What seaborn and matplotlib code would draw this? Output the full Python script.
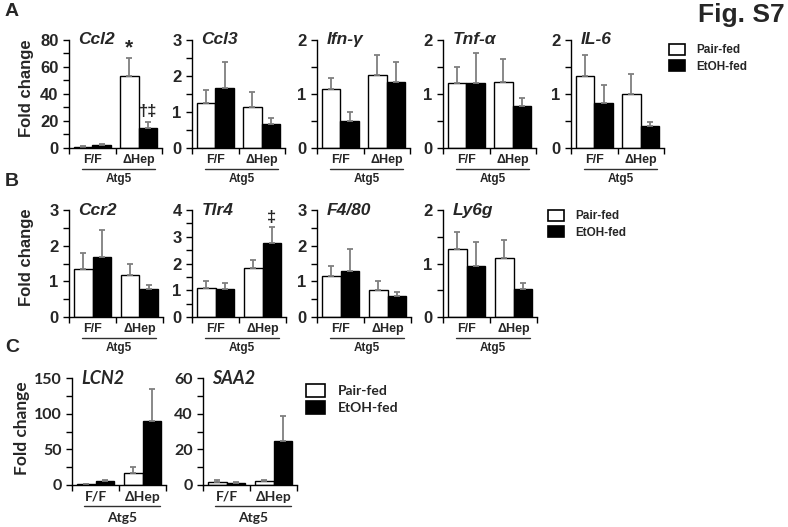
#!/usr/bin/env python3
"""
Fig. S7 - fold change bar charts, Atg5 F/F vs deltaHep, pair-fed vs EtOH-fed
"""

import pandas as pd
import matplotlib.pyplot as plt
import seaborn as sns
from matplotlib.lines import Line2D
from matplotlib.patches import Patch
from matplotlib.ticker import MultipleLocator

# groups and diets
groups = ['F/F', '\u0394Hep']
diets = ['Pair-fed', 'EtOH-fed']

# panel A
genes_a = ['Ccl2', 'Ccl3', 'Ifn-\u03b3', 'Tnf-\u03b1', 'IL-6']
pair_a = [[1.0, 53.0], [1.25, 1.13], [1.1, 1.35], [1.2, 1.23], [1.33, 1.0]]
pair_err_a = [[0.3, 14.0], [0.37, 0.42], [0.2, 0.37], [0.3, 0.42], [0.39, 0.37]]
etoh_a = [[2.5, 15.0], [1.68, 0.68], [0.5, 1.22], [1.2, 0.77], [0.83, 0.4]]
etoh_err_a = [[0.6, 4.0], [0.72, 0.15], [0.16, 0.38], [0.55, 0.15], [0.34, 0.08]]
ymax_a = [80, 3, 2, 2, 2]
ystep_a = [20, 1, 1, 1, 1]

# panel B
genes_b = ['Ccr2', 'Tlr4', 'F4/80', 'Ly6g']
pair_b = [[1.35, 1.17], [1.1, 1.85], [1.15, 0.75], [1.27, 1.1]]
pair_err_b = [[0.45, 0.33], [0.23, 0.28], [0.27, 0.27], [0.32, 0.33]]
etoh_b = [[1.67, 0.78], [1.03, 2.75], [1.28, 0.58], [0.95, 0.53]]
etoh_err_b = [[0.77, 0.12], [0.24, 0.6], [0.62, 0.12], [0.45, 0.1]]
ymax_b = [3, 4, 3, 2]
ystep_b = [1, 1, 1, 1]

# panel C
genes_c = ['LCN2', 'SAA2']
pair_c = [[0.8, 17.0], [1.8, 2.3]]
pair_err_c = [[0.3, 8.0], [0.8, 0.7]]
etoh_c = [[5.5, 90.0], [1.2, 24.5]]
etoh_err_c = [[1.5, 45.0], [0.3, 14.0]]
ymax_c = [150, 60]
ystep_c = [50, 20]

W, H = 788, 527
ARIAL = ['Liberation Sans', 'DejaVu Sans']
CALIBRI = ['Lato', 'Open Sans', 'DejaVu Sans']

sns.set_style('ticks')
plt.rcParams['font.family'] = ARIAL
plt.rcParams['font.weight'] = 'bold'

fig = plt.figure(figsize=(W / 100, H / 100), dpi=100)


def add_px_axes(x0, x1, ytop, ybot):
    return fig.add_axes([x0 / W, 1 - ybot / H, (x1 - x0) / W, (ybot - ytop) / H])


def fig_text(x, y, s, **kw):
    fig.text(x / W, 1 - y / H, s, **kw)


def draw_panel(ax, gene, pair, pair_err, etoh, etoh_err, ymax, ystep, fam,
               tick_fs, xtick_fs, title_fs):
    df = pd.DataFrame({
        'group': groups * 2,
        'diet': [diets[0]] * 2 + [diets[1]] * 2,
        'value': list(pair) + list(etoh),
    })
    sns.barplot(data=df, x='group', y='value', hue='diet', hue_order=diets,
                palette={'Pair-fed': 'white', 'EtOH-fed': 'black'},
                edgecolor='black', linewidth=1.0, errorbar=None,
                width=0.8, legend=False, ax=ax)
    # upper-only error bars, grey
    for cont, errs in zip(ax.containers, [pair_err, etoh_err]):
        for bar, e in zip(cont, errs):
            x = bar.get_x() + bar.get_width() / 2
            y = bar.get_height()
            ax.errorbar(x, y, yerr=[[0], [e]], fmt='none', ecolor='#7f7f7f',
                        elinewidth=1.3, capsize=2.5, capthick=1.3, zorder=1)
    ax.set_xlim(-0.5, 1.5)
    ax.set_ylim(0, ymax)
    ax.set_xlabel('')
    ax.set_ylabel('')
    ax.yaxis.set_major_locator(MultipleLocator(ystep))
    ax.yaxis.set_minor_locator(MultipleLocator(ystep / 2))
    ax.set_xticks([0, 1])
    ax.set_xticklabels(groups)
    ax.set_xticks([-0.5, 0.5, 1.5], minor=True)
    ax.tick_params(axis='x', which='major', length=0, pad=4,
                   labelsize=xtick_fs, labelfontfamily=fam)
    ax.tick_params(axis='x', which='minor', length=4, width=1, color='black')
    ax.tick_params(axis='y', which='both', length=4, width=1, color='black')
    ax.tick_params(axis='y', which='major', labelsize=tick_fs, labelfontfamily=fam)
    for sp in ['top', 'right']:
        ax.spines[sp].set_visible(False)
    for sp in ['left', 'bottom']:
        ax.spines[sp].set_linewidth(1.0)
        ax.spines[sp].set_color('black')
    ax.text(0.1, 1.0, gene, transform=ax.transAxes, fontsize=title_fs,
            fontweight='bold', style='italic', family=fam, va='center', ha='left')
    return ax


def underline(x0, x1, y_line, y_text, fam, fs):
    fig.add_artist(Line2D([(x0) / W, (x1) / W], [1 - y_line / H] * 2,
                          transform=fig.transFigure, color='#303030', lw=1.0))
    fig_text((x0 + x1) / 2, y_text, 'Atg5', ha='center', va='center',
             fontsize=fs, fontweight='bold', family=fam)


def legend_at(x, y, fam, fs):
    handles = [Patch(facecolor='white', edgecolor='black', linewidth=1.2),
               Patch(facecolor='black', edgecolor='black', linewidth=1.2)]
    fig.legend(handles, diets, loc='upper left', bbox_to_anchor=(x / W, 1 - y / H),
               frameon=False, prop={'family': fam, 'weight': 'bold', 'size': fs},
               handlelength=1.4, handleheight=1.1, handletextpad=0.9, labelspacing=0.3,
               borderaxespad=0)


# panel A
xs_a = [69, 192, 317, 443, 571]
axes_a = []
for i, g in enumerate(genes_a):
    ax = add_px_axes(xs_a[i], xs_a[i] + 93, 40, 148)
    draw_panel(ax, g, pair_a[i], pair_err_a[i], etoh_a[i], etoh_err_a[i],
               ymax_a[i], ystep_a[i], ARIAL, 12, 9, 12.5)
    underline(xs_a[i] + 13, xs_a[i] + 86, 169, 179, ARIAL, 8.5)
    axes_a.append(ax)

# significance marks on Ccl2 and Tlr4
ccl2 = axes_a[0]
b_pair = ccl2.containers[0][1]
b_etoh = ccl2.containers[1][1]
ccl2.text(b_pair.get_x() + b_pair.get_width() / 2, 74, '*', ha='center', va='center',
          fontsize=15, fontweight='bold')
ccl2.text(b_etoh.get_x() + b_etoh.get_width() / 2, 27, '\u2020\u2021', ha='center',
          va='center', fontsize=12, fontweight='bold')

# panel B
xs_b = [69, 192, 317, 443]
for i, g in enumerate(genes_b):
    ax = add_px_axes(xs_b[i], xs_b[i] + 94, 210, 317)
    draw_panel(ax, g, pair_b[i], pair_err_b[i], etoh_b[i], etoh_err_b[i],
               ymax_b[i], ystep_b[i], ARIAL, 12, 9, 12.5)
    underline(xs_b[i] + 13, xs_b[i] + 87, 338, 348, ARIAL, 8.5)
    if g == 'Tlr4':
        bar = ax.containers[1][1]
        ax.text(bar.get_x() + bar.get_width() / 2, 3.72, '\u2021', ha='center',
                va='center', fontsize=12, fontweight='bold')

# panel C
xs_c = [72, 203]
for i, g in enumerate(genes_c):
    ax = add_px_axes(xs_c[i], xs_c[i] + 94, 378, 485)
    draw_panel(ax, g, pair_c[i], pair_err_c[i], etoh_c[i], etoh_err_c[i],
               ymax_c[i], ystep_c[i], CALIBRI, 11.5, 10, 13)
    underline(xs_c[i] + 12, xs_c[i] + 88, 506, 518, CALIBRI, 10)

# y labels
fig_text(26, 88, 'Fold change', rotation=90, ha='center', va='center',
         fontsize=12, fontweight='bold')
fig_text(26, 257, 'Fold change', rotation=90, ha='center', va='center',
         fontsize=12, fontweight='bold')
fig_text(22, 428, 'Fold change', rotation=90, ha='center', va='center',
         fontsize=12.5, fontweight='bold', family=CALIBRI)

# legends
legend_at(664, 39, ARIAL, 8.5)
legend_at(543, 205, ARIAL, 8.5)
legend_at(300, 378, CALIBRI, 10)

# panel letters and figure label
fig_text(12, 12, 'A', ha='center', va='center', fontsize=14, fontweight='bold')
fig_text(12, 181, 'B', ha='center', va='center', fontsize=14, fontweight='bold')
fig_text(12, 348, 'C', ha='center', va='center', fontsize=14, fontweight='bold')
fig_text(785, 15, 'Fig. S7', ha='right', va='center', fontsize=19, fontweight='bold')

fig.savefig('out.png', dpi=100)
plt.close(fig)
